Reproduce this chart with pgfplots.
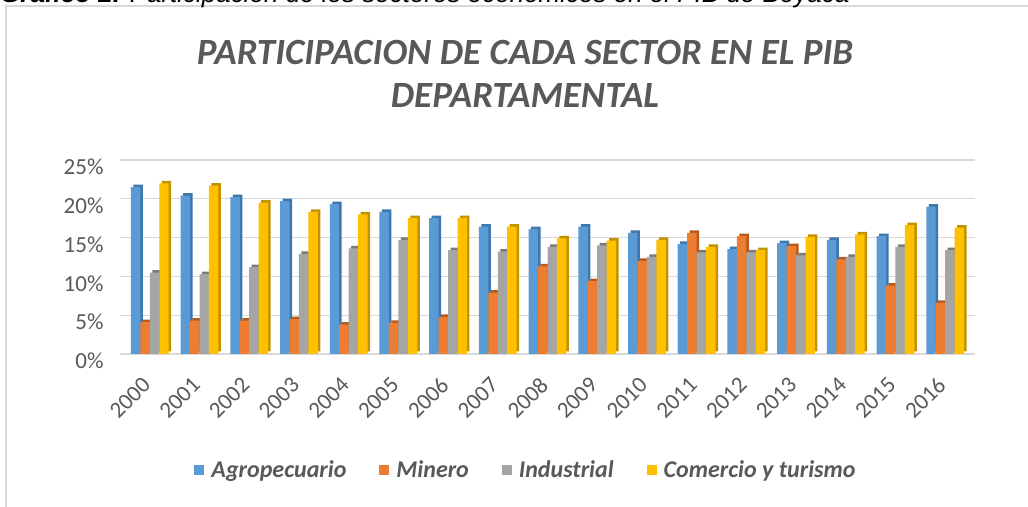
\documentclass[border=0pt]{standalone}
\usepackage{fontspec}
\setmainfont{Carlito}
\newfontfamily\arialfont{Liberation Sans}
\usepackage{pgfplots}
\pgfplotsset{compat=1.18}
\usepackage{pgfplotstable}
\definecolor{cA}{HTML}{5B9BD5}
\definecolor{cM}{HTML}{ED7D31}
\definecolor{cI}{HTML}{A5A5A5}
\definecolor{cC}{HTML}{FFC000}
\definecolor{dA}{HTML}{3E76AE}
\definecolor{dM}{HTML}{B85A1C}
\definecolor{dI}{HTML}{7A7A7A}
\definecolor{dC}{HTML}{C29200}
\definecolor{txtgray}{HTML}{595959}
\definecolor{gridgray}{HTML}{D9D9D9}
\definecolor{framegray}{HTML}{D9D9D9}

\pgfplotstableread{
x A M I C
0 21.5 4.1 10.5 22.0
1 20.4 4.3 10.3 21.7
2 20.2 4.3 11.2 19.5
3 19.7 4.5 12.9 18.3
4 19.3 3.8 13.6 18.0
5 18.3 4.0 14.7 17.5
6 17.5 4.8 13.4 17.5
7 16.4 7.9 13.2 16.4
8 16.1 11.3 13.8 14.9
9 16.4 9.4 14.0 14.6
10 15.6 12.0 12.5 14.7
11 14.2 15.6 13.1 13.8
12 13.5 15.2 13.1 13.4
13 14.3 13.9 12.7 15.1
14 14.7 12.2 12.5 15.4
15 15.2 8.8 13.8 16.6
16 19.0 6.6 13.4 16.3
}\datatable

\begin{document}
\begin{tikzpicture}
\useasboundingbox (0pt,0pt) rectangle (1028pt,506pt);
\fill[white] (0pt,0pt) rectangle (1028pt,506pt);
\draw[framegray, line width=1.3pt] (6pt,-20pt) -- (6pt,500pt) -- (1050pt,500pt);
\node[anchor=base west, font=\arialfont\itshape\fontsize{26}{26}\selectfont, inner sep=0] at (0pt,503pt) {\textbf{Gráfico 2.} Participación de los sectores económicos en el PIB de Boyacá};
\node[font=\bfseries\itshape\fontsize{37}{37}\selectfont, text=txtgray] at (525pt,454pt) {PARTICIPACION DE CADA SECTOR EN EL PIB};
\node[font=\bfseries\itshape\fontsize{37}{37}\selectfont, text=txtgray] at (525pt,410pt) {DEPARTAMENTAL};
\begin{axis}[
  at={(120pt,152pt)}, anchor=south west, scale only axis,
  width=855pt, height=194pt,
  xmin=-0.6, xmax=16.6, ymin=0, ymax=25, enlargelimits=false,
  ybar, bar width=0.19,
  axis line style={draw=none},
  major tick length=0pt,
  ymajorgrids, grid style={draw=gridgray, line width=1.3pt},
  ytick={0,5,10,15,20,25}, yticklabels={0\%,5\%,10\%,15\%,20\%,25\%},
  xtick={0,...,16}, xticklabels={2000,2001,2002,2003,2004,2005,2006,2007,2008,2009,2010,2011,2012,2013,2014,2015,2016},
  ticklabel style={font=\fontsize{23}{23}\selectfont, text=txtgray},
  yticklabel style={yshift=-7pt, xshift=-13pt},
  xticklabel style={yshift=-25pt, xshift=-1pt, rotate=45, anchor=east},
  legend columns=4,
  legend style={draw=none, fill=none, at={(0.4749,-0.598)}, anchor=center,
    font=\bfseries\itshape\fontsize{24}{24}\selectfont, text=txtgray,
    /tikz/every odd column/.append style={column sep=5pt},
    /tikz/every even column/.append style={column sep=31pt}},
  legend image code/.code={\draw[#1, draw=none] (0pt,-5pt) rectangle (10pt,5pt);},
]
\addplot[fill=dA, draw=none, bar shift=-0.285, xshift=2.5pt, yshift=2.5pt, forget plot] table[x=x,y=A]{\datatable};
\addplot[fill=cA, draw=none, bar shift=-0.285] table[x=x,y=A]{\datatable};
\addplot[fill=dM, draw=none, bar shift=-0.095, xshift=2.5pt, yshift=2.5pt, forget plot] table[x=x,y=M]{\datatable};
\addplot[fill=cM, draw=none, bar shift=-0.095] table[x=x,y=M]{\datatable};
\addplot[fill=dI, draw=none, bar shift=0.095, xshift=2.5pt, yshift=2.5pt, forget plot] table[x=x,y=I]{\datatable};
\addplot[fill=cI, draw=none, bar shift=0.095] table[x=x,y=I]{\datatable};
\addplot[fill=dC, draw=none, bar shift=0.285, xshift=2.5pt, yshift=2.5pt, forget plot] table[x=x,y=C]{\datatable};
\addplot[fill=cC, draw=none, bar shift=0.285] table[x=x,y=C]{\datatable};
\legend{Agropecuario, Minero, Industrial, Comercio y turismo}
\end{axis}
\end{tikzpicture}
\end{document}
